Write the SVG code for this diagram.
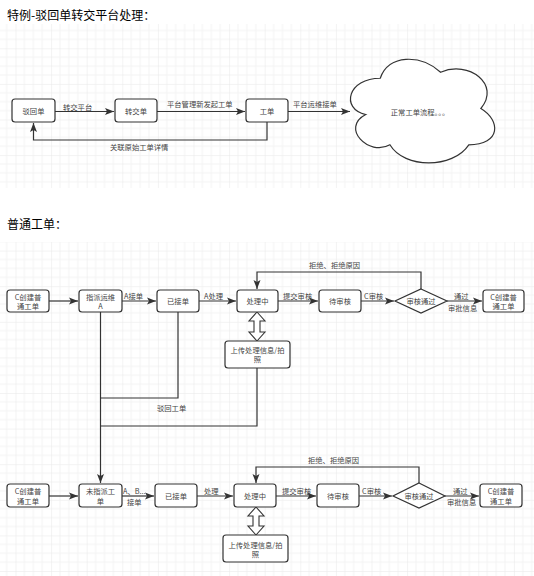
<svg xmlns="http://www.w3.org/2000/svg" width="534" height="576" viewBox="0 0 534 576">
<defs>
<pattern id="gridTop" patternUnits="userSpaceOnUse" x="15.5" y="12.7" width="35.6" height="35.6">
<path d="M8.9 0V35.6M17.8 0V35.6M26.7 0V35.6M0 8.9H35.6M0 17.8H35.6M0 26.7H35.6" stroke="#f3f3f3" stroke-width="1" fill="none"/>
<path d="M0 0V35.6M0 0H35.6" stroke="#e8e8e8" stroke-width="1" fill="none"/>
</pattern>
<pattern id="gridBot" patternUnits="userSpaceOnUse" x="15.5" y="250.6" width="35.6" height="35.6">
<path d="M8.9 0V35.6M17.8 0V35.6M26.7 0V35.6M0 8.9H35.6M0 17.8H35.6M0 26.7H35.6" stroke="#f3f3f3" stroke-width="1" fill="none"/>
<path d="M0 0V35.6M0 0H35.6" stroke="#e8e8e8" stroke-width="1" fill="none"/>
</pattern>
<marker id="arr" markerUnits="userSpaceOnUse" markerWidth="10" markerHeight="10" viewBox="0 0 10 10" refX="9" refY="5" orient="auto">
<path d="M0 1.5L9 5L0 8.5L2 5Z" fill="#333"/>
</marker>
</defs>
<style>
.title{font-family:"Noto Sans CJK SC","Liberation Sans",sans-serif;font-size:12px;fill:#000;}
.t{font-family:"Noto Sans CJK SC","Liberation Sans",sans-serif;font-size:7.3px;fill:#444;}
.c{text-anchor:middle;dominant-baseline:central;}
.box{fill:#fff;stroke:#333;stroke-width:1.2;}
.line{fill:none;stroke:#333;stroke-width:1.2;}
.da{fill:#fff;stroke:#333;stroke-width:1.1;}
</style>
<rect width="534" height="576" fill="#fff"/>
<rect x="0" y="24" width="534" height="164" fill="url(#gridTop)"/>
<rect x="0" y="242" width="534" height="334" fill="url(#gridBot)"/>

<text class="title" x="7" y="20">特例-驳回单转交平台处理：</text>
<text class="title" x="7" y="229">普通工单：</text>

<g id="connectors">
<path class="line" d="M55 111.5H114" marker-end="url(#arr)"/>
<path class="line" d="M157 111.5H245" marker-end="url(#arr)"/>
<path class="line" d="M288 111.5H350" marker-end="url(#arr)"/>
<path class="line" d="M267 122V140H33.5V123" marker-end="url(#arr)"/>
<text class="t" x="63" y="107" dominant-baseline="central">转交平台</text>
<text class="t" x="167" y="104" dominant-baseline="central">平台管理新发起工单</text>
<text class="t" x="293" y="104" dominant-baseline="central">平台运维接单</text>
<text class="t" x="110" y="147" dominant-baseline="central">关联原始工单详情</text>

<path class="line" d="M49 301H78" marker-end="url(#arr)"/>
<path class="line" d="M122 301H156" marker-end="url(#arr)"/>
<path class="line" d="M199 301H236" marker-end="url(#arr)"/>
<path class="line" d="M278 301H318" marker-end="url(#arr)"/>
<path class="line" d="M361 301H394" marker-end="url(#arr)"/>
<path class="line" d="M447 301H482" marker-end="url(#arr)"/>
<path class="line" d="M421 289V272H257V289" marker-end="url(#arr)"/>
<path class="line" d="M100.5 312V483" marker-end="url(#arr)"/>
<path class="line" d="M178 312V398H100.5"/>
<path class="line" d="M257 368V426H100.5"/>
<path class="da" d="M257 312L265 321H260V332H265L257 341L249 332H254V321H249Z"/>
<text class="t" x="124" y="296" dominant-baseline="central">A接单</text>
<text class="t" x="204" y="296" dominant-baseline="central">A处理</text>
<text class="t" x="283" y="296" dominant-baseline="central">提交审核</text>
<text class="t" x="364" y="296" dominant-baseline="central">C审核</text>
<text class="t" x="454" y="296" dominant-baseline="central">通过</text>
<text class="t" x="448" y="308" dominant-baseline="central">审批信息</text>
<text class="t" x="309" y="265" dominant-baseline="central">拒绝、拒绝原因</text>
<text class="t" x="157" y="408" dominant-baseline="central">驳回工单</text>

<path class="line" d="M49 496H78" marker-end="url(#arr)"/>
<path class="line" d="M122 496H154" marker-end="url(#arr)"/>
<path class="line" d="M197 496H233" marker-end="url(#arr)"/>
<path class="line" d="M276 496H316" marker-end="url(#arr)"/>
<path class="line" d="M359 496H392" marker-end="url(#arr)"/>
<path class="line" d="M445 496H479" marker-end="url(#arr)"/>
<path class="line" d="M419 483V467H256V483" marker-end="url(#arr)"/>
<path class="da" d="M256 507L264 516H259V526H264L256 535L248 526H253V516H248Z"/>
<text class="t" x="123" y="491" dominant-baseline="central">A、B...</text>
<text class="t" x="127" y="502" dominant-baseline="central">接单</text>
<text class="t" x="204" y="491" dominant-baseline="central">处理</text>
<text class="t" x="282" y="491" dominant-baseline="central">提交审核</text>
<text class="t" x="362" y="491" dominant-baseline="central">C审核</text>
<text class="t" x="453" y="491" dominant-baseline="central">通过</text>
<text class="t" x="447" y="502" dominant-baseline="central">审批信息</text>
<text class="t" x="308" y="460" dominant-baseline="central">拒绝、拒绝原因</text>
</g>

<g id="n-bohuidan"><rect class="box" x="12" y="99" width="43" height="23" rx="3"/><text class="t c" x="33.5" y="111">驳回单</text></g>
<g id="n-zhuanjiaodan"><rect class="box" x="115" y="99" width="42" height="23" rx="3"/><text class="t c" x="136" y="111">转交单</text></g>
<g id="n-gongdan"><rect class="box" x="246" y="99" width="42" height="23" rx="3"/><text class="t c" x="267" y="111">工单</text></g>
<g id="n-cloud"><path class="box" d="M380.25 78.25C348.05 78.25 340 108.5 365.76 114.55C340 127.86 368.98 156.9 389.91 144.8C404.4 169 452.7 169 468.8 144.8C501 144.8 501 120.6 480.88 108.5C501 84.3 468.8 60.1 440.6 72.2C420.5 54.05 388.3 54.05 380.25 78.25Z"/><text class="t c" x="420" y="112">正常工单流程。。。</text></g>

<g id="r1-create"><rect class="box" x="7" y="290" width="42" height="22" rx="3"/><text class="t c" x="28" y="297">C创建普</text><text class="t c" x="28" y="306">通工单</text></g>
<g id="r1-assign"><rect class="box" x="79" y="290" width="43" height="22" rx="3"/><text class="t c" x="100.5" y="297">指派运维</text><text class="t c" x="100.5" y="306">A</text></g>
<g id="r1-accepted"><rect class="box" x="157" y="290" width="42" height="22" rx="3"/><text class="t c" x="178" y="301">已接单</text></g>
<g id="r1-processing"><rect class="box" x="237" y="290" width="41" height="22" rx="3"/><text class="t c" x="257.5" y="301">处理中</text></g>
<g id="r1-upload"><rect class="box" x="225" y="341" width="65" height="27" rx="3"/><text class="t c" x="257.5" y="350">上传处理信息/拍</text><text class="t c" x="257.5" y="359">照</text></g>
<g id="r1-pending"><rect class="box" x="319" y="290" width="42" height="22" rx="3"/><text class="t c" x="340" y="301">待审核</text></g>
<g id="r1-decision"><path class="box" d="M421 289L447 301L421 313L395 301Z"/><text class="t c" x="421" y="301">审核通过</text></g>
<g id="r1-create2"><rect class="box" x="483" y="290" width="41" height="22" rx="3"/><text class="t c" x="503.5" y="297">C创建普</text><text class="t c" x="503.5" y="306">通工单</text></g>

<g id="r2-create"><rect class="box" x="7" y="484" width="42" height="23" rx="3"/><text class="t c" x="28" y="491">C创建普</text><text class="t c" x="28" y="501">通工单</text></g>
<g id="r2-unassigned"><rect class="box" x="79" y="484" width="43" height="23" rx="3"/><text class="t c" x="100.5" y="491">未指派工</text><text class="t c" x="100.5" y="501">单</text></g>
<g id="r2-accepted"><rect class="box" x="155" y="484" width="42" height="23" rx="3"/><text class="t c" x="176" y="496">已接单</text></g>
<g id="r2-processing"><rect class="box" x="234" y="484" width="42" height="23" rx="3"/><text class="t c" x="255" y="496">处理中</text></g>
<g id="r2-upload"><rect class="box" x="223" y="535" width="65" height="27" rx="3"/><text class="t c" x="255.5" y="545">上传处理信息/拍</text><text class="t c" x="255.5" y="554">照</text></g>
<g id="r2-pending"><rect class="box" x="317" y="484" width="42" height="23" rx="3"/><text class="t c" x="338" y="496">待审核</text></g>
<g id="r2-decision"><path class="box" d="M419 483L445 496L419 508L393 496Z"/><text class="t c" x="419" y="496">审核通过</text></g>
<g id="r2-create2"><rect class="box" x="480" y="484" width="42" height="23" rx="3"/><text class="t c" x="501" y="491">C创建普</text><text class="t c" x="501" y="501">通工单</text></g>
</svg>
